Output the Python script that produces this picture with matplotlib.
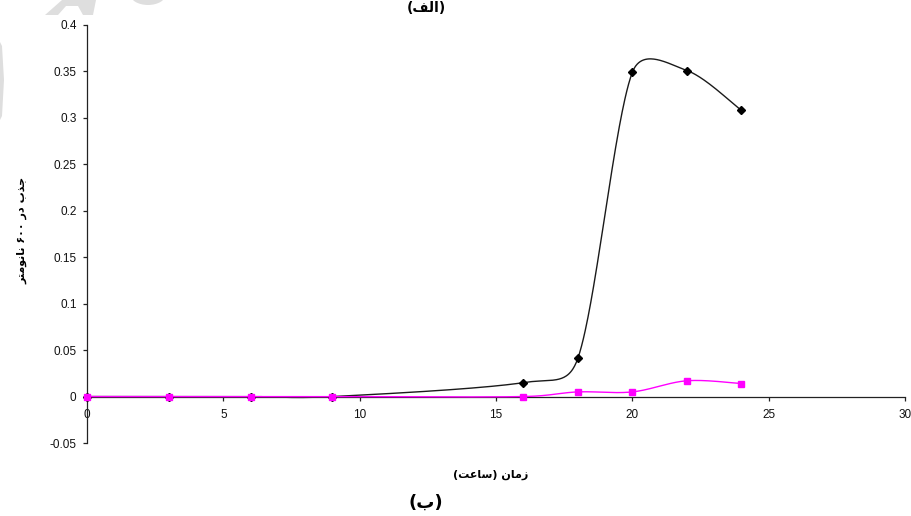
import numpy as np
import matplotlib
matplotlib.use('Agg')
import matplotlib.pyplot as plt
from matplotlib.patches import Polygon, Ellipse
from matplotlib.ticker import FuncFormatter

# ---- data ----
hours_black = [0, 3, 6, 9, 16, 18, 20, 22, 24]
abs_black = [0, 0, 0, 0, 0.015, 0.041, 0.349, 0.351, 0.308]
hours_pink = [0, 3, 6, 9, 16, 18, 20, 22, 24]
abs_pink = [0, 0, 0, 0, 0, 0.005, 0.005, 0.017, 0.014]
x_ticks = [0, 5, 10, 15, 20, 25, 30]
y_ticks = [-0.05, 0, 0.05, 0.1, 0.15, 0.2, 0.25, 0.3, 0.35, 0.4]

# Persian text, pre-shaped (presentation forms, visual order)
ylabel_txt = "\uFEAE\uFE98\uFEE3\uFEEE\uFEE7\uFE8E\uFEE7 \u06F6\u06F0\u06F0 \uFEAD\uFEA9 \uFE8F\uFEAC\uFE9F"
xlabel_txt = "(\uFE96\uFECB\uFE8E\uFEB3) \uFEE5\uFE8E\uFEE3\uFEAF"
top_txt = "(\uFED2\uFEDF\uFE8D)"
bottom_txt = "(\uFE8F)"

W, H = 911, 516
fig = plt.figure(figsize=(W / 100, H / 100), dpi=100)
fig.patch.set_facecolor('white')

# faint watermark shapes (top-left)
def px(pts):
    return [(x / W, 1 - y / H) for x, y in pts]
wm = '#dedede'
fig.patches.append(Polygon(px([(45, 15), (62, 0), (96, 0), (93, 15), (83, 15), (78, 6), (66, 6), (58, 15)]),
                           closed=True, transform=fig.transFigure, facecolor=wm, edgecolor='none'))
fig.patches.append(Ellipse((148 / W, 1 + 6 / H), 36 / W, 22 / H, transform=fig.transFigure,
                           facecolor=wm, edgecolor='none'))
fig.patches.append(Polygon(px([(0, 42), (2, 46), (4, 80), (2, 116), (0, 120)]),
                           closed=True, transform=fig.transFigure, facecolor=wm, edgecolor='none'))

ax = fig.add_axes([87 / W, 1 - 443 / H, (905 - 87) / W, (443 - 25) / H])
ax.set_facecolor('none')
ax.set_xlim(0, 30)
ax.set_ylim(-0.05, 0.4)


def excel_smooth(ax, xs, ys, n=60):
    pts = ax.transData.transform(np.column_stack([xs, ys]))
    m = len(pts)
    out = [pts[0]]
    for i in range(m - 1):
        p0 = pts[max(i - 1, 0)]
        p1 = pts[i]
        p2 = pts[i + 1]
        p3 = pts[min(i + 2, m - 1)]
        d12 = np.hypot(*(p2 - p1))
        d02 = np.hypot(*(p2 - p0))
        d13 = np.hypot(*(p3 - p1))
        f1 = 1 / 6 if d02 == 0 else min(1 / 6, d12 / (2 * d02))
        f2 = 1 / 6 if d13 == 0 else min(1 / 6, d12 / (2 * d13))
        c1 = p1 + f1 * (p2 - p0)
        c2 = p2 - f2 * (p3 - p1)
        t = np.linspace(0, 1, n)[1:, None]
        seg = (1 - t) ** 3 * p1 + 3 * (1 - t) ** 2 * t * c1 + 3 * (1 - t) * t ** 2 * c2 + t ** 3 * p2
        out.extend(seg)
    out = np.array(out)
    return ax.transData.inverted().transform(out)


sb = excel_smooth(ax, hours_black, abs_black)
ax.plot(sb[:, 0], sb[:, 1], color='#1a1a1a', lw=1.0, zorder=2)
ax.plot(hours_black, abs_black, linestyle='none', marker='D', ms=4.2, color='black', zorder=3, clip_on=False)

sp = excel_smooth(ax, hours_pink, abs_pink)
ax.plot(sp[:, 0], sp[:, 1], color='#ff00ff', lw=1.0, zorder=4)
ax.plot(hours_pink, abs_pink, linestyle='none', marker='s', ms=4.6, color='#ff00ff', zorder=5, clip_on=False)

# axes styling (Excel-like, x axis crossing at y=0)
ax.spines['top'].set_visible(False)
ax.spines['right'].set_visible(False)
ax.spines['bottom'].set_position(('data', 0))
for s in ('left', 'bottom'):
    ax.spines[s].set_color('#222222')
    ax.spines[s].set_linewidth(0.9)

ax.set_xticks(x_ticks)
ax.set_yticks(y_ticks)
fmt = FuncFormatter(lambda v, p: f"{round(v, 4):g}")
ax.xaxis.set_major_formatter(fmt)
ax.yaxis.set_major_formatter(fmt)
ax.tick_params(axis='both', direction='out', length=3, width=0.9, color='#222222',
               labelsize=8.5, labelcolor='#111111')
ax.tick_params(axis='x', pad=6)
ax.tick_params(axis='y', pad=4.5)
for lab in ax.get_xticklabels() + ax.get_yticklabels():
    lab.set_family('Liberation Sans')

# labels
fig.text(22 / W, 1 - 230 / H, ylabel_txt, rotation=90, ha='center', va='center',
         family='DejaVu Sans', fontsize=8, fontweight='bold')
fig.text(491 / W, 1 - 475 / H, xlabel_txt, ha='center', va='center',
         family='DejaVu Sans', fontsize=8, fontweight='bold')
fig.text(426 / W, 1 - 503 / H, bottom_txt, ha='center', va='center',
         family='DejaVu Sans', fontsize=13, fontweight='bold')
fig.text(426 / W, 1 - 1 / H, top_txt, ha='center', va='top',
         family='DejaVu Sans', fontsize=10, fontweight='bold')

fig.savefig('out.png', dpi=100, facecolor='white')
